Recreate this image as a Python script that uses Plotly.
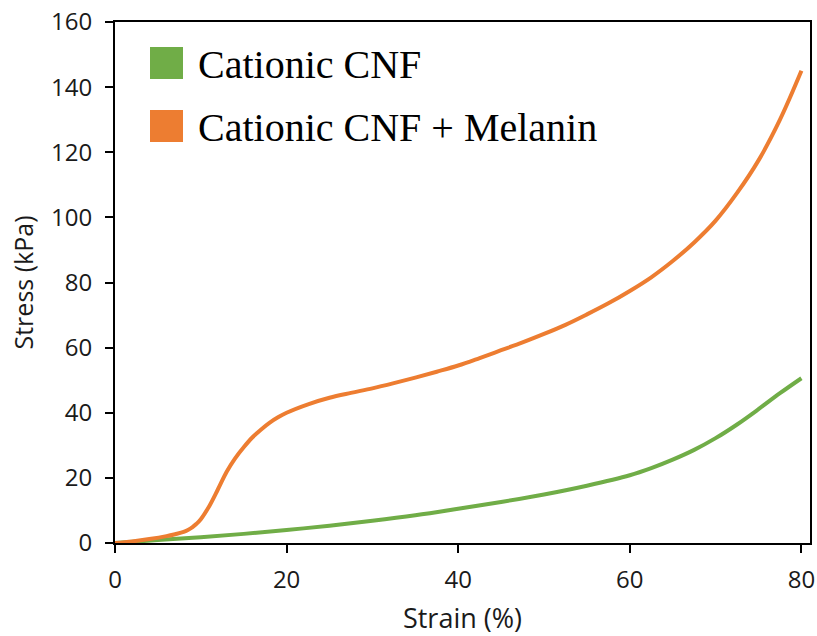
import plotly.graph_objects as go

# Stress–strain curves for the two hydrogel formulations
strain_cnf = [0, 5, 10, 15, 20, 25, 30, 35, 40, 45, 50, 55, 60, 62.5, 65, 67.5,
              70, 72.5, 75, 77.5, 80]
stress_cnf = [0, 0.9, 1.8, 2.8, 4.0, 5.3, 6.8, 8.5, 10.5, 12.6, 14.9, 17.6, 20.8,
              23.0, 25.6, 28.6, 32.2, 36.4, 41.1, 46.0, 50.6]

strain_mel = [0, 2, 4, 6, 7, 8, 8.5, 9, 9.5, 10, 11, 12, 13, 14, 15, 16, 17, 18,
              19, 20, 22.5, 25, 27.5, 30, 32.5, 35, 37.5, 40, 42.5, 45, 47.5, 50,
              52.5, 55, 57.5, 60, 62.5, 65, 67.5, 70, 72.5, 75, 77.5, 80]
stress_mel = [0, 0.5, 1.2, 2.1, 2.7, 3.4, 4.0, 4.8, 5.9, 7.3, 11.4, 16.5, 21.8,
              26.0, 29.4, 32.4, 34.8, 36.9, 38.6, 40.0, 42.6, 44.6, 46.1, 47.5,
              49.1, 50.8, 52.6, 54.5, 56.8, 59.2, 61.6, 64.2, 67.0, 70.2, 73.6,
              77.4, 81.6, 86.6, 92.3, 99.0, 107.5, 117.5, 130.0, 145.0]

series_names = ["Cationic CNF", "Cationic CNF + Melanin"]
series_colors = ["#70AD47", "#ED7D31"]

x_ticks = [0, 20, 40, 60, 80]
y_ticks = [0, 20, 40, 60, 80, 100, 120, 140, 160]

fig = go.Figure()
for xs, ys, name, color in [
    (strain_cnf, stress_cnf, series_names[0], series_colors[0]),
    (strain_mel, stress_mel, series_names[1], series_colors[1]),
]:
    fig.add_trace(go.Scatter(
        x=xs, y=ys, name=name, mode="lines",
        line=dict(color=color, width=4, shape="spline", smoothing=1.0),
        showlegend=False,
    ))

# Hand-built legend: coloured squares with serif labels
W, L, R, T, B = 817, 115, 7, 22, 93
H = 636
pw, ph = W - L - R, H - T - B


def px_x(px):
    return (px - L) / pw


def px_y(py):
    return (H - B - py) / ph


legend_rows = [(47, 79), (110, 142)]
for (top, bot), name, color in zip(legend_rows, series_names, series_colors):
    fig.add_shape(type="rect", xref="paper", yref="paper",
                  x0=px_x(150), x1=px_x(183), y0=px_y(bot), y1=px_y(top),
                  fillcolor=color, line=dict(width=0))
    fig.add_annotation(xref="paper", yref="paper", x=px_x(196),
                       y=px_y((top + bot) / 2 + 1), xanchor="left", yanchor="middle",
                       text=name, showarrow=False,
                       font=dict(family="Liberation Serif", size=40, color="#000000"))

axis_common = dict(
    showline=True, linecolor="#000000", linewidth=2, mirror=True,
    ticks="outside", ticklen=8, tickwidth=2, tickcolor="#000000",
    showgrid=False, zeroline=False, automargin=False,
    tickfont=dict(family="Open Sans", size=24, color="#1a1a1a"),
)

fig.update_layout(
    width=W, height=H,
    margin=dict(l=L, r=R, t=T, b=B, autoexpand=False),
    paper_bgcolor="#ffffff", plot_bgcolor="#ffffff",
    xaxis=dict(range=[0, 81], tickvals=x_ticks, ticklabelstandoff=6,
               title=dict(text="Strain (%)", standoff=22,
                          font=dict(family="Open Sans", size=27, color="#1a1a1a")),
               **axis_common),
    yaxis=dict(range=[0, 160], tickvals=y_ticks, ticklabelstandoff=8,
               title=dict(text="Stress (kPa)", standoff=10,
                          font=dict(family="Open Sans", size=25, color="#1a1a1a")),
               **axis_common),
)

fig.write_html("out.html")
